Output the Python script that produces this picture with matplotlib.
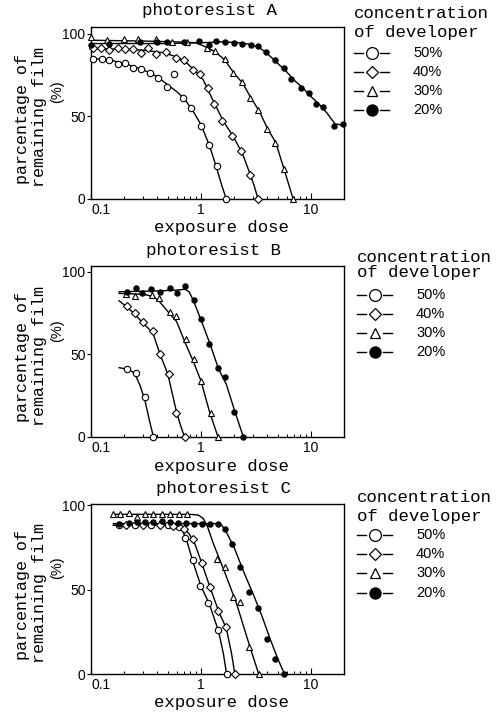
import matplotlib
matplotlib.use('Agg')
import matplotlib.pyplot as plt
from matplotlib.lines import Line2D
from matplotlib.ticker import LogLocator, NullFormatter

W, H = 500, 713
MONO = 'Liberation Mono'
SANS = 'Liberation Sans'

concentrations = ['50%', '40%', '30%', '20%']

# ---- photoresist A : measured points ----
a50_x = [0.1035, 0.126, 0.145, 0.175, 0.204, 0.239, 0.285, 0.344, 0.409, 0.488, 0.57, 0.69, 0.81, 1.0, 1.18, 1.39, 1.69]
a50_y = [84.5, 84.5, 83.9, 81.5, 82.1, 79.1, 78.5, 76.1, 73.4, 68, 75.5, 61, 55, 44.3, 32.6, 19.7, 0]
a40_x = [0.1035, 0.123, 0.147, 0.175, 0.204, 0.242, 0.285, 0.333, 0.39, 0.48, 0.59, 0.705, 0.84, 0.98, 1.15, 1.32, 1.57, 1.9, 2.3, 2.8, 3.3]
a40_y = [91.5, 91.1, 90.1, 91.1, 90.5, 90.5, 88.1, 91.1, 87.5, 89.1, 85.5, 84.1, 77.9, 75.5, 67, 57.7, 46.9, 38.2, 28.8, 14.7, 0]
a30_x = [0.1, 0.14, 0.2, 0.27, 0.39, 0.55, 0.75, 1.13, 1.33, 1.65, 1.95, 2.35, 2.8, 3.3, 3.95, 4.75, 5.7, 6.9]
a30_y = [98, 96, 97, 97, 97, 95, 95, 91.5, 89.5, 84.5, 76, 70.5, 61, 54, 42.5, 34, 18, 0]
a20_x = [0.1, 0.145, 0.28, 0.4, 0.49, 0.7, 0.97, 1.18, 1.37, 1.65, 2.0, 2.36, 2.83, 3.3, 3.88, 4.69, 5.7, 6.65, 8.09, 9.63, 11.1, 12.8, 16.1, 19.4]
a20_y = [93, 94, 95, 95, 95, 95, 95.5, 93, 95.5, 95, 94.5, 94, 93, 92.5, 88.9, 83.8, 79.1, 72.6, 67, 64.1, 57.4, 55.4, 44.2, 45.2]

# ---- photoresist A : hand drawn fit curves ----
a50_cx = [0.1, 0.15, 0.2, 0.3, 0.4, 0.5, 0.6, 0.7, 0.85, 1.0, 1.2, 1.4, 1.55, 1.7]
a50_cy = [85, 84, 82, 78, 74, 69, 65, 61, 53, 45, 32, 18, 8, 0]
a40_cx = [0.1, 0.2, 0.3, 0.45, 0.6, 0.75, 0.9, 1.05, 1.3, 1.6, 2.0, 2.4, 2.8, 3.05, 3.3]
a40_cy = [91, 90.5, 90, 88.5, 86, 82, 77, 72, 59, 47, 37, 27, 15, 8, 0]
a30_cx = [0.1, 0.3, 0.6, 0.9, 1.1, 1.35, 1.65, 2.0, 2.4, 2.8, 3.4, 4.0, 4.8, 5.7, 6.9]
a30_cy = [96, 95.5, 95, 94.5, 92, 89, 84, 76, 70, 62, 53, 43, 34, 18, 0]
a20_cx = [0.1, 0.5, 1.0, 1.6, 2.2, 2.8, 3.4, 4.0, 5.0, 6.0, 7.0, 8.5, 10, 12, 14, 16.5, 20]
a20_cy = [94, 94, 94.5, 95, 94.5, 93.5, 91.5, 88, 82, 77, 72, 67, 62, 57, 52, 45.5, 44.5]

# ---- photoresist B ----
b50_x = [0.214, 0.259, 0.31, 0.368]
b50_y = [41.2, 39, 24.3, 0]
b40_x = [0.214, 0.252, 0.299, 0.368, 0.42, 0.51, 0.595, 0.71]
b40_y = [79.1, 75.1, 69.7, 64.1, 50.2, 38.2, 14.7, 0]
b30_x = [0.21, 0.25, 0.362, 0.415, 0.518, 0.595, 0.733, 0.87, 1.0, 1.23, 1.42]
b30_y = [86.5, 85.5, 85.9, 84.5, 75.9, 73.2, 59.2, 47.1, 34.2, 14.5, 0]
b20_x = [0.214, 0.259, 0.293, 0.348, 0.42, 0.518, 0.607, 0.71, 0.86, 1.0, 1.19, 1.44, 1.65, 2.0, 2.43]
b20_y = [88, 90.4, 87, 89.4, 87.6, 90.4, 87.5, 91.2, 83.1, 71.5, 56.6, 41.8, 36.3, 15.3, 0]

b50_cx = [0.18, 0.22, 0.25, 0.28, 0.31, 0.34, 0.37]
b50_cy = [42, 41, 38.5, 31, 22, 10, 0]
b40_cx = [0.18, 0.22, 0.27, 0.33, 0.37, 0.42, 0.5, 0.6, 0.66, 0.71]
b40_cy = [82.5, 78, 72, 66, 62, 51, 38, 15, 6, 0]
b30_cx = [0.18, 0.3, 0.37, 0.42, 0.5, 0.6, 0.72, 0.85, 1.0, 1.2, 1.43]
b30_cy = [87, 86.5, 85, 82, 76, 70, 57, 46, 34, 15, 0]
b20_cx = [0.18, 0.4, 0.6, 0.72, 0.78, 0.85, 1.0, 1.2, 1.45, 1.7, 2.0, 2.43]
b20_cy = [88, 88.5, 89, 89.5, 88, 83, 71, 57, 41, 32, 17, 0]

# ---- photoresist C ----
c50_x = [0.18, 0.25, 0.35, 0.5, 0.63, 0.72, 0.84, 0.99, 1.17, 1.42, 1.71]
c50_y = [88, 88, 88, 88, 87, 80.5, 67.7, 52, 42.3, 26.2, 0]
c40_x = [0.21, 0.3, 0.42, 0.56, 0.7, 0.85, 1.02, 1.22, 1.44, 1.7, 2.03]
c40_y = [88, 88, 88, 87.5, 86, 79.8, 65.6, 51.7, 37.1, 27.7, 0]
c30_x = [0.16, 0.185, 0.22, 0.26, 0.31, 0.37, 0.44, 0.52, 0.63, 0.75, 1.41, 1.64, 1.95, 2.25, 2.75, 3.35]
c30_y = [94.5, 94.5, 95.5, 93, 94.5, 94.5, 94.5, 94.5, 94.5, 94.5, 68, 63.6, 45.8, 42.6, 16, 0]
c20_x = [0.18, 0.22, 0.26, 0.31, 0.37, 0.44, 0.52, 0.62, 0.73, 0.86, 1.03, 1.2, 1.42, 1.66, 1.93, 2.28, 2.74, 3.28, 3.95, 4.73, 5.75]
c20_y = [89, 89.5, 90, 90, 90, 90.5, 90, 89.2, 89.2, 89, 89, 89, 89, 85.7, 76.7, 63.6, 48.7, 38.8, 20.8, 8.6, 0]

c50_cx = [0.16, 0.5, 0.62, 0.68, 0.75, 0.85, 1.0, 1.2, 1.45, 1.6, 1.71]
c50_cy = [88, 88, 87.5, 85, 78, 66, 52, 41, 25, 12, 0]
c40_cx = [0.16, 0.55, 0.7, 0.78, 0.88, 1.0, 1.2, 1.45, 1.7, 1.9, 2.03]
c40_cy = [88, 88, 86, 83, 77, 67, 52, 37, 27, 12, 0]
c30_cx = [0.16, 0.8, 0.95, 1.05, 1.15, 1.3, 1.65, 2.1, 2.7, 3.35]
c30_cy = [94.5, 94.5, 94, 92, 87, 77, 60, 42, 19, 0]
c20_cx = [0.16, 1.4, 1.55, 1.7, 2.0, 2.5, 3.0, 3.6, 4.3, 5.0, 5.75]
c20_cy = [89, 89, 88, 84, 75, 59, 47, 34, 20, 9, 0]

# marker style per concentration: (marker, size, face)
styles = [('o', 4.6, 'white'), ('D', 3.6, 'white'), ('^', 4.0, 'white'), ('o', 3.8, 'black')]
legend_styles = [('o', 8.5, 'white'), ('D', 6.5, 'white'), ('^', 7.0, 'white'), ('o', 8.0, 'black')]


def fx(x):
    return x / W


def fy(y):
    return 1 - y / H


fig = plt.figure(figsize=(W / 100, H / 100), dpi=100)
fig.patch.set_facecolor('white')


def draw_panel(top, bottom, ymax, title, title_x, xlabel_y, points, curves, leg):
    ax = fig.add_axes([fx(91), fy(bottom), fx(344) - fx(91), fy(top) - fy(bottom)])
    for (px, py), (cx, cy), (m, ms, fc) in zip(points, curves, styles):
        ax.plot(cx, cy, color='black', lw=1.0)
        ax.plot(px, py, ls='none', marker=m, ms=ms, mfc=fc, mec='black', mew=0.8, clip_on=False, zorder=3)
    ax.set_xscale('log')
    ax.set_xlim(0.1, 20)
    ax.set_ylim(0, ymax)
    ax.set_xticks([0.1, 1, 10])
    ax.set_xticklabels(['0.1', '1', '10'], fontfamily=SANS, fontsize=10)
    ax.xaxis.set_minor_locator(LogLocator(base=10, subs=range(2, 10)))
    ax.xaxis.set_minor_formatter(NullFormatter())
    ax.set_yticks([0, 50, 100])
    ax.set_yticklabels(['0', '50', '100'], fontfamily=SANS, fontsize=10)
    ax.tick_params(axis='x', which='major', direction='in', length=4, width=0.8, pad=3)
    ax.tick_params(axis='y', which='major', direction='out', length=3, width=0.8, pad=1)
    ax.tick_params(axis='x', which='minor', direction='in', length=2.5, width=0.7)
    ax.get_xticklabels()[0].set_horizontalalignment('left')
    for s in ax.spines.values():
        s.set_linewidth(1.0)

    mid = (top + bottom) / 2
    fig.text(fx(title_x), fy(top - 16), title, family=MONO, fontsize=12.5, ha='center', va='center')
    fig.text(fx(221), fy(xlabel_y), 'exposure dose', family=MONO, fontsize=12.5, ha='center', va='center')
    fig.text(fx(23), fy(mid + 6), 'parcentage of', family=MONO, fontsize=12, rotation=90, ha='center', va='center')
    fig.text(fx(40), fy(mid + 4), 'remaining film', family=MONO, fontsize=12, rotation=90, ha='center', va='center')
    fig.text(fx(57), fy(mid - 21), '(%)', family=SANS, fontsize=10.5, rotation=90, ha='center', va='center')

    # legend drawn by hand: "-O-  50%"
    lx, ly1, ly2, rows = leg
    fig.text(fx(lx), fy(ly1), 'concentration', family=MONO, fontsize=12.5, ha='left', va='center')
    fig.text(fx(lx), fy(ly2), 'of developer', family=MONO, fontsize=12.5, ha='left', va='center')
    for ry, lab, (m, ms, fc) in zip(rows, concentrations, legend_styles):
        for x0, x1 in [(lx, lx + 9), (lx + 26, lx + 35)]:
            fig.add_artist(Line2D([fx(x0), fx(x1)], [fy(ry), fy(ry)], color='black', lw=1.0,
                                  transform=fig.transFigure))
        fig.add_artist(Line2D([fx(lx + 17.5)], [fy(ry)], ls='none', marker=m, ms=ms, mfc=fc,
                              mec='black', mew=0.9, transform=fig.transFigure))
        fig.text(fx(lx + 59), fy(ry), lab, family=SANS, fontsize=10.5, ha='left', va='center')
    return ax


draw_panel(27, 199, 104, 'photoresist A', 209, 227,
           [(a50_x, a50_y), (a40_x, a40_y), (a30_x, a30_y), (a20_x, a20_y)],
           [(a50_cx, a50_cy), (a40_cx, a40_cy), (a30_cx, a30_cy), (a20_cx, a20_cy)],
           (354, 13, 32, [53, 72, 91, 110]))

draw_panel(266, 437, 103.6, 'photoresist B', 213, 467,
           [(b50_x, b50_y), (b40_x, b40_y), (b30_x, b30_y), (b20_x, b20_y)],
           [(b50_cx, b50_cy), (b40_cx, b40_cy), (b30_cx, b30_cy), (b20_cx, b20_cy)],
           (357, 257, 273, [295, 314, 333, 352]))

draw_panel(504, 674, 100.6, 'photoresist C', 223, 702,
           [(c50_x, c50_y), (c40_x, c40_y), (c30_x, c30_y), (c20_x, c20_y)],
           [(c50_cx, c50_cy), (c40_cx, c40_cy), (c30_cx, c30_cy), (c20_cx, c20_cy)],
           (357, 498, 517, [535, 554, 573, 593]))

fig.savefig('out.png', dpi=100)
